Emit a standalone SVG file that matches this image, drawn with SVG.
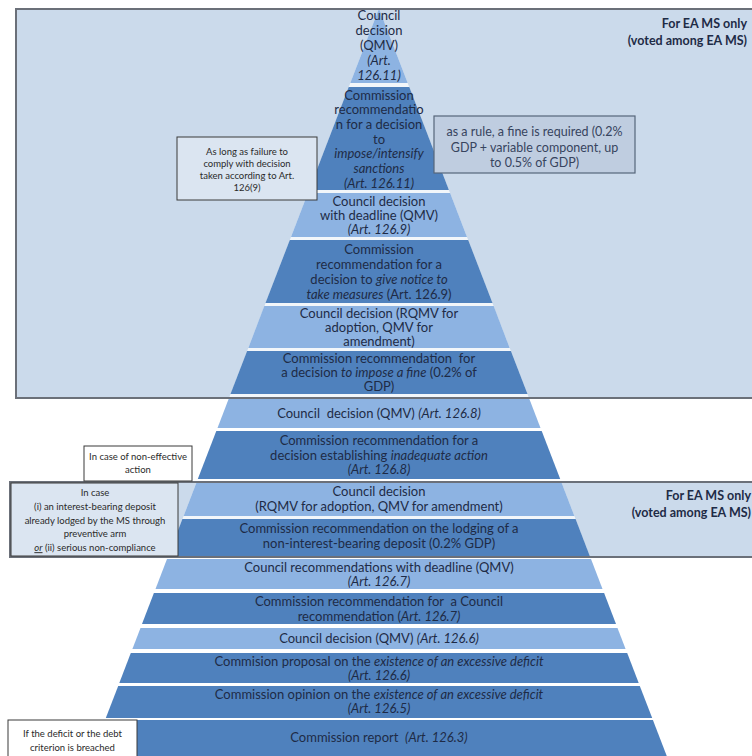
<svg xmlns="http://www.w3.org/2000/svg" width="752" height="756" viewBox="0 0 752 756">
<style>
  .ea{fill:#cbdaeb;stroke:none}
  .eab{fill:none;stroke:#6b7079;stroke-width:2}
  .lt{fill:#8db3e2}
  .dk{fill:#4f81bd}
  .t{font-family:Lato,"Liberation Sans",sans-serif;font-size:13px;fill:#1e2b46;text-anchor:middle}
  .i{font-style:italic}
  .note{font-family:Lato,"Liberation Sans",sans-serif;font-size:9.5px;fill:#2a2a2a;text-anchor:middle}
  .ea-t{font-family:Lato,"Liberation Sans",sans-serif;font-size:12.5px;font-weight:bold;fill:#1e2b46;text-anchor:end}
  .wbox{fill:#ffffff;stroke:#3a3a3a;stroke-width:1}
  .lbox{fill:#dbe5f1;stroke:#3a3a3a;stroke-width:1}
  .fine{font-family:Lato,"Liberation Sans",sans-serif;font-size:12.5px;fill:#37445e;text-anchor:middle}
</style>
<rect width="752" height="756" fill="#ffffff"/>
<g id="ea-zone-top">
  <rect class="ea" x="16" y="9" width="740" height="389"/>
</g>
<g id="ea-zone-mid">
  <rect class="ea" x="10" y="482" width="746" height="75"/>
</g>
<polygon points="379,8.4 668.3,760 89.7,760" fill="#ffffff" fill-opacity="0.75"/>
<g id="band1"><polygon class="lt" points="379,8.4 407.7,83 350.3,83"/>
  <text class="t" x="379" y="19.5">Council</text>
  <text class="t" x="379" y="34.5">decision</text>
  <text class="t" x="379" y="49.5">(QMV)</text>
  <text class="t i" x="379" y="64.5">(Art.</text>
  <text class="t i" x="379" y="79.5">126.11)</text>
</g>
<g id="band2"><polygon class="dk" points="348.7,87 409.3,87 448.9,190 309.1,190"/>
  <text class="t" x="379" y="99.5">Commission</text>
  <text class="t" x="379" y="114.2">recommendatio</text>
  <text class="t" x="379" y="128.8">n for a decision</text>
  <text class="t" x="379" y="143.5">to</text>
  <text class="t i" x="379" y="158.2">impose/intensify</text>
  <text class="t i" x="379" y="172.8">sanctions</text>
  <text class="t i" x="379" y="187.5">(Art. 126.11)</text>
</g>
<g id="band3"><polygon class="lt" points="307.9,193 450.1,193 467,237 291,237"/>
  <text class="t" x="379" y="205.5">Council decision</text>
  <text class="t" x="379" y="219.7">with deadline (QMV)</text>
  <text class="t i" x="379" y="234">(Art. 126.9)</text>
</g>
<g id="band4"><polygon class="dk" points="289.8,240 468.2,240 492.5,303 265.5,303"/>
  <text class="t" x="379" y="253.5">Commission</text>
  <text class="t" x="379" y="268.5">recommendation for a</text>
  <text class="t" x="379" y="283.5">decision to <tspan class="i">give notice to</tspan></text>
  <text class="t" x="379" y="298.5"><tspan class="i">take measures</tspan> (Art. 126.9)</text>
</g>
<g id="band5"><polygon class="lt" points="264.3,306 493.7,306 509.7,348 248.3,348"/>
  <text class="t" x="379" y="317.5">Council decision (RQMV for</text>
  <text class="t" x="379" y="331.7">adoption, QMV for</text>
  <text class="t" x="379" y="346">amendment)</text>
</g>
<g id="band6"><polygon class="dk" points="247.1,351 510.9,351 527.5,394 230.5,394"/>
  <text class="t" x="379" y="362.5" xml:space="preserve">Commission recommendation  for</text>
  <text class="t" x="379" y="376.5">a decision <tspan class="i">to impose a fine</tspan> (0.2% of</text>
  <text class="t" x="379" y="390.5">GDP)</text>
</g>
<g id="band7"><polygon class="lt" points="229,398 529,398 540.5,428 217.5,428"/>
  <text class="t" x="379" y="417.5" xml:space="preserve">Council  decision (QMV) <tspan class="i">(Art. 126.8)</tspan></text>
</g>
<g id="band8"><polygon class="dk" points="216.3,431 541.7,431 560.2,479 197.8,479"/>
  <text class="t" x="379" y="445">Commission recommendation for a</text>
  <text class="t" x="379" y="459.5">decision establishing <tspan class="i">inadequate action</tspan></text>
  <text class="t i" x="379" y="474">(Art. 126.8)</text>
</g>
<g id="band9"><polygon class="lt" points="196.3,483 561.7,483 574.4,516 183.6,516"/>
  <text class="t" x="379" y="495.5">Council decision</text>
  <text class="t" x="379" y="510.5">(RQMV for adoption, QMV for amendment)</text>
</g>
<g id="band10"><polygon class="dk" points="182.4,519 575.6,519 589.8,556 168.2,556"/>
  <text class="t" x="379" y="532.5">Commission recommendation on the lodging of a</text>
  <text class="t" x="379" y="547.5">non-interest-bearing deposit (0.2% GDP)</text>
</g>
<g id="band11"><polygon class="lt" points="167,559 591,559 602.5,589 155.5,589"/>
  <text class="t" x="379" y="571.5">Council recommendations with deadline (QMV)</text>
  <text class="t i" x="379" y="585.5">(Art. 126.7)</text>
</g>
<g id="band12"><polygon class="dk" points="153.9,593 604.1,593 616,624 142,624"/>
  <text class="t" x="379" y="605.5" xml:space="preserve">Commission recommendation for  a Council</text>
  <text class="t" x="379" y="620.5">recommendation (<tspan class="i">Art. 126.7)</tspan></text>
</g>
<g id="band13"><polygon class="lt" points="140.5,628 617.5,628 625.6,649 132.4,649"/>
  <text class="t" x="379" y="643">Council decision (QMV) <tspan class="i">(Art. 126.6)</tspan></text>
</g>
<g id="band14"><polygon class="dk" points="130.8,653 627.2,653 638.7,683 119.3,683"/>
  <text class="t" x="379" y="665.5">Commision proposal on the <tspan class="i">existence of an excessive deficit</tspan></text>
  <text class="t i" x="379" y="679.5">(Art. 126.6)</text>
</g>
<g id="band15"><polygon class="dk" points="118.2,686 639.8,686 652.2,718 105.8,718"/>
  <text class="t" x="379" y="698.5">Commission opinion on the <tspan class="i">existence of an excessive deficit</tspan></text>
  <text class="t i" x="379" y="713">(Art. 126.5)</text>
</g>
<g id="band16"><polygon class="dk" points="105.1,720 652.9,720 668.3,760 89.7,760"/>
  <text class="t" x="379" y="741.5" xml:space="preserve">Commission report  <tspan class="i">(Art. 126.3)</tspan></text>
</g>
<g id="ea-borders">
  <rect class="eab" x="16" y="9" width="740" height="389"/>
  <rect class="eab" x="10" y="482" width="746" height="75"/>
  <text class="ea-t" x="747" y="28">For EA MS only</text>
  <text class="ea-t" x="747" y="45">(voted among EA MS)</text>
  <text class="ea-t" x="751" y="500">For EA MS only</text>
  <text class="ea-t" x="751" y="517">(voted among EA MS)</text>
</g>
<g id="note-failure">
  <rect class="lbox" x="177" y="137" width="140" height="63"/>
  <text class="note" x="247" y="154.5">As long as failure to</text>
  <text class="note" x="247" y="166.8">comply with decision</text>
  <text class="note" x="247" y="179">taken according to Art.</text>
  <text class="note" x="247" y="191.3">126(9)</text>
</g>
<g id="note-fine">
  <rect x="434" y="116" width="201" height="57" fill="#bfcde0" stroke="#56667a" stroke-width="1.2"/>
  <text class="fine" x="534.5" y="136">as a rule, a fine is required (0.2%</text>
  <text class="fine" x="534.5" y="151.5">GDP + variable component, up</text>
  <text class="fine" x="534.5" y="167">to 0.5% of GDP)</text>
</g>
<g id="note-noneffective">
  <rect class="wbox" x="84" y="446" width="108" height="35"/>
  <text class="note" x="138" y="459.5">In case of non-effective</text>
  <text class="note" x="138" y="472.5">action</text>
</g>
<g id="note-deposit">
  <rect class="lbox" x="11" y="483" width="167" height="73"/>
  <text class="note" x="95" y="496">In case</text>
  <text class="note" x="95" y="509.8">(i) an interest-bearing deposit</text>
  <text class="note" x="95" y="523.6">already lodged by the MS through</text>
  <text class="note" x="95" y="537.4">preventive arm</text>
  <text class="note" x="95" y="551.2"><tspan class="i" text-decoration="underline">or</tspan> (ii) serious non-compliance</text>
</g>
<g id="note-breach">
  <rect class="wbox" x="8" y="720" width="129" height="40"/>
  <text class="note" x="72.5" y="736.5">If the deficit or the debt</text>
  <text class="note" x="72.5" y="751">criterion is breached</text>
</g>
<g id="connectors"/>
</svg>
